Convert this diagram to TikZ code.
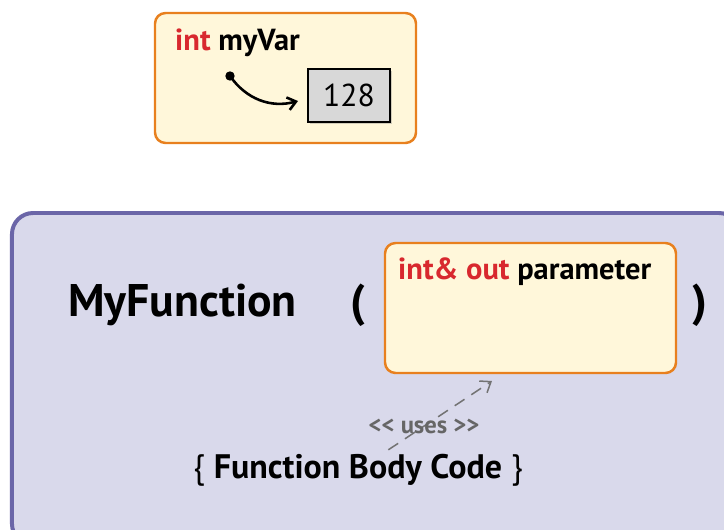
\documentclass[tikz,border=0pt]{standalone}
\usepackage{fontspec}
\setmainfont{PT Sans}
\usetikzlibrary{arrows.meta, positioning, shadows}
\definecolor{varorange}{HTML}{E8801E}
\definecolor{varfill}{HTML}{FFF7DA}
\definecolor{funcfill}{HTML}{D9D9EB}
\definecolor{funcdraw}{HTML}{6B66A8}
\definecolor{kwred}{HTML}{D8282E}
\definecolor{valfill}{HTML}{D8D8D8}
\tikzset{
    myvarbox/.style = {
        rectangle,
        rounded corners=9pt,
        draw=varorange,
        fill=varfill,
        line width=2.1pt
    },
    myvalue/.style = {
        rectangle,
        draw=black,
        fill=valfill,
        line width=1.6pt,
        minimum width=2.46cm,
        minimum height=1.59cm,
        font=\fontsize{27}{30}\selectfont,
        drop shadow={shadow xshift=2pt, shadow yshift=-2pt, opacity=0.35}
    },
    myfunc/.style = {
        rectangle,
        rounded corners=18pt,
        draw=funcdraw,
        fill=funcfill,
        line width=3.4pt,
        minimum width=21.84cm,
        minimum height=9.96cm
    },
    mylabel/.style = {
        anchor=west,
        inner sep=0pt,
        font=\bfseries\fontsize{26}{30}\selectfont
    },
    mybig/.style = {
        font=\bfseries\fontsize{39}{44}\selectfont
    },
    myarrow/.style = {
        line width=2.2pt,
        -{Straight Barb[length=7pt, width=11pt]}
    },
    myuses/.style = {
        draw=black!55,
        line width=1.3pt,
        dash pattern=on 10pt off 7pt,
        -{Straight Barb[length=8pt, width=12pt]}
    }
}

\begin{document}
\begin{tikzpicture}[x=0.03cm, y=-0.03cm]
\useasboundingbox (0,0) rectangle (724,530);
\fill[white] (0,0) rectangle (724,530);
\path[clip] (0,0) rectangle (724,530);

% Variable
\node (myvar) [myvarbox, minimum width=7.83cm, minimum height=3.9cm] at (285.5,78) {};
\node (varname) [mylabel] at (175,43) {\textcolor{kwred}{int} myVar};
\node (value) [myvalue] at (349,95.5) {128};
\fill (230,76) circle (4pt) coordinate (dot);
\coordinate (pointer) at (298,101);
\draw [myarrow] (dot) to[out=-55, in=195] (pointer);

% Function
\node (func) [myfunc] at (376,379) {};
\node (funcname) [mybig, anchor=west, inner sep=0pt] at (68,305) {MyFunction};
\node (lparen) [mybig] at (358,305) {(};
\node (rparen) [mybig] at (700,305) {)};
\node (param) [myvarbox, minimum width=8.73cm, minimum height=3.9cm] at (530.5,308) {};
\node (paramname) [mylabel] at (398,272) {\textcolor{kwred}{int\& out} parameter};

% Body
\node (body) [font=\fontsize{29}{33}\selectfont] at (358,470) {\{ \textbf{Function Body Code} \}};
\coordinate (usesend) at (492,381);
\draw [myuses] (body) -- (usesend);
\node (uses) [text=black!60, font=\bfseries\fontsize{21}{24}\selectfont] at (424,426) {{<}{<} uses {>}{>}};

\end{tikzpicture}
\end{document}
